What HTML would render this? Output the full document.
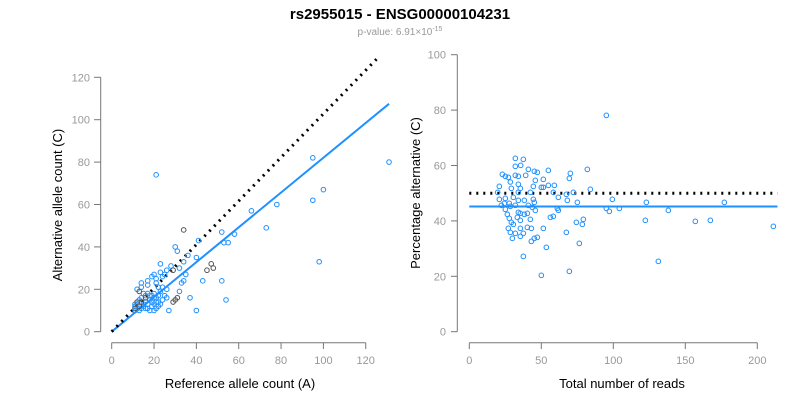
<!DOCTYPE html>
<html><head><meta charset="utf-8"><style>
body{margin:0;background:#fff;width:800px;height:400px;overflow:hidden}
svg text{font-family:"Liberation Sans",Arial,sans-serif}
</style></head><body>
<svg id="s" width="800" height="400" xmlns="http://www.w3.org/2000/svg">
<text x="400" y="19" text-anchor="middle" font-size="15" font-weight="bold">rs2955015 - ENSG00000104231</text>
<text x="400" y="35" text-anchor="middle" font-size="10" fill="#999">p-value: 6.91×10<tspan dy="-4" font-size="7">-15</tspan></text>
<g id="g" stroke="#777" fill="none"></g>
</svg>
<script>
var NS="http://www.w3.org/2000/svg",s=document.getElementById('s');
function el(t,a,txt){var e=document.createElementNS(NS,t);for(var k in a)e.setAttribute(k,a[k]);if(txt!=null)e.textContent=txt;s.appendChild(e);return e;}
// left plot
var lx=v=>111.7+v*2.117, ly=v=>331.7-v*2.12;
el('line',{x1:100.7,y1:ly(0),x2:100.7,y2:ly(120),stroke:'#777'});
for(var v=0;v<=120;v+=20){el('line',{x1:94,y1:ly(v),x2:100.7,y2:ly(v),stroke:'#777'});el('text',{x:90,y:ly(v)+4,'text-anchor':'end','font-size':11,fill:'#999'},v);}
el('line',{x1:lx(0),y1:342.7,x2:lx(120),y2:342.7,stroke:'#777'});
for(var v=0;v<=120;v+=20){el('line',{x1:lx(v),y1:342.7,x2:lx(v),y2:349,stroke:'#777'});el('text',{x:lx(v),y:364,'text-anchor':'middle','font-size':11,fill:'#999'},v);}
el('text',{x:240,y:388,'text-anchor':'middle','font-size':13},'Reference allele count (A)');
el('text',{x:0,y:0,'text-anchor':'middle','font-size':13,transform:'translate(62,205) rotate(-90)'},'Alternative allele count (C)');
el('line',{x1:lx(0),y1:ly(0),x2:lx(131),y2:ly(107.5),stroke:'#1e90ff','stroke-width':2});
el('line',{x1:lx(0),y1:ly(0),x2:lx(126.5),y2:ly(130),stroke:'#000','stroke-width':3,'stroke-dasharray':'2 5'});
var L=[[21,74],[95,82],[131,80],[100,67],[95,62],[78,60],[66,57],[73,49],[98,33],[58,46],[55,42],[53,42],[52,47],[41,43],[40,35],[36,36],[30,40],[31,38],[34,33],[35,27],[34,24],[33,23],[32,30],[28,31],[26,29],[25,27],[24,26],[23,32],[23,28],[20,27],[19,26],[21,25],[17,24],[14,23],[17,22],[21,23],[43,24],[52,24],[54,15],[40,10],[37,16],[27,10],[32,19],[26,20],[26,16],[25,17],[24,15],[24,21],[22,21],[23,13],[22,12],[20,10],[18,10],[17,11],[16,11],[15,12],[14,11],[13,10],[12,11],[11,10],[11,12],[11,13],[13,15],[14,16],[12,20],[15,18],[16,17],[17,18],[18,15],[19,14],[20,13],[21,16],[22,17],[19,12],[20,18],[21,14],[23,19],[14,21],[15,13],[12,13],[16,14],[18,17],[20,16],[21,11],[22,14],[17,13],[19,17]];
var G=[[34,48],[29,29],[31,16],[30,15],[29,14],[47,32],[48,30],[45,29],[12,14],[13,19],[13,12],[14,14],[16,16],[11,11]];
L.forEach(p=>el('circle',{cx:lx(p[0]),cy:ly(p[1]),r:2.3,fill:'none',stroke:'#1e90ff','stroke-width':1}));
G.forEach(p=>el('circle',{cx:lx(p[0]),cy:ly(p[1]),r:2.3,fill:'none',stroke:'#555','stroke-width':1}));
// right plot
var rx=v=>469.3+v*1.44, ry=v=>331.7-v*2.77;
el('line',{x1:457.3,y1:ry(0),x2:457.3,y2:ry(100),stroke:'#777'});
for(var v=0;v<=100;v+=20){el('line',{x1:451,y1:ry(v),x2:457.3,y2:ry(v),stroke:'#777'});el('text',{x:446,y:ry(v)+4,'text-anchor':'end','font-size':11,fill:'#999'},v);}
el('line',{x1:rx(0),y1:342.7,x2:rx(200),y2:342.7,stroke:'#777'});
for(var v=0;v<=200;v+=50){el('line',{x1:rx(v),y1:342.7,x2:rx(v),y2:349,stroke:'#777'});el('text',{x:rx(v),y:364,'text-anchor':'middle','font-size':11,fill:'#999'},v);}
el('text',{x:622,y:388,'text-anchor':'middle','font-size':13},'Total number of reads');
el('text',{x:0,y:0,'text-anchor':'middle','font-size':13,transform:'translate(420,193) rotate(-90)'},'Percentage alternative (C)');
el('line',{x1:rx(0),y1:ry(45.2),x2:rx(214),y2:ry(45.2),stroke:'#1e90ff','stroke-width':2});
el('line',{x1:rx(0),y1:ry(50),x2:rx(214),y2:ry(50),stroke:'#000','stroke-width':3,'stroke-dasharray':'2 5'});
var R=[[619,226],[346,355],[370,358],[346,379],[362,376],[385,388],[403,394],[412,397],[377,406],[346,406],[355,409],[562,388],[511,400],[508,415],[445,391],[307,403],[316,409],[325,412],[331,426],[355,433],[361,445],[334,445],[298,439],[430,418],[406,421],[400,439],[424,442],[430,442],[445,436],[463,436],[571,448],[293,457],[460,457],[520,457],[391,457],[355,457],[298,478],[316,475],[340,472],[355,481],[373,481],[400,478],[403,487],[475,472],[499,463],[502,481],[532,487],[637,478],[739,487],[973,487],[304,496],[313,490],[328,490],[331,499],[346,496],[385,496],[397,502],[406,511],[472,505],[475,511],[619,505],[628,514],[658,505],[805,511],[316,508],[322,523],[328,535],[334,547],[340,553],[355,517],[361,520],[382,520],[373,523],[352,532],[361,541],[391,538],[451,532],[460,529],[736,541],[886,544],[931,541],[529,547],[550,538],[547,553],[325,565],[361,565],[394,565],[430,565],[382,562],[331,577],[346,580],[370,580],[361,589],[337,595],[403,595],[412,592],[394,604],[499,577],[538,610],[439,622],[370,649],[508,694],[424,706],[775,664],[1120,559]];
R.forEach(p=>el('circle',{cx:400+p[0]/3,cy:40+p[1]/3,r:2.3,fill:'none',stroke:'#1e90ff','stroke-width':1}));
</script>
</body></html>
